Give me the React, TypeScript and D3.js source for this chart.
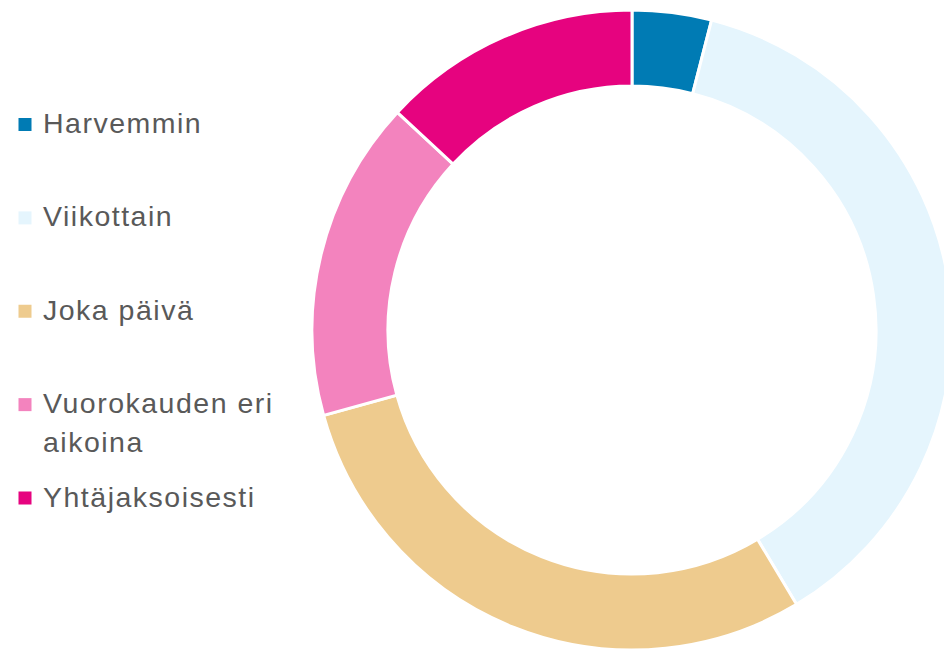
import React from "react";
import * as d3 from "d3";

const categories = ["Harvemmin", "Viikottain", "Joka päivä", "Vuorokauden eri aikoina", "Yhtäjaksoisesti"];
const values = [4.0, 37.4, 29.3, 16.2, 13.1];
const colors = ["#007bb4", "#e5f5fd", "#eecb8e", "#f383be", "#e6037f"];
const legendLines = [["Harvemmin"], ["Viikottain"], ["Joka päivä"], ["Vuorokauden eri", "aikoina"], ["Yhtäjaksoisesti"]];

export default function App() {
  const W = 944, H = 649;
  const cx = 632, cy = 330, rOuter = 320, rInner = 244;
  const data = categories.map((c, i) => ({ c, v: values[i], color: colors[i] }));
  const pie = d3.pie<any>().value((d) => d.v).sort(null);
  const arc = d3.arc<any>().innerRadius(rInner).outerRadius(rOuter);
  const arcs = pie(data);
  const legendY = d3.scaleLinear().domain([0, 4]).range([124.5, 498]);
  return (
    <svg width={W} height={H} style={{ position: "fixed", left: 0, top: 0, background: "#fff" }}>
      <g transform={`translate(${cx},${cy})`}>
        {arcs.map((a, i) => (
          <path key={i} d={arc(a) as string} fill={a.data.color} stroke="#fff" strokeWidth={3} />
        ))}
      </g>
      {legendLines.map((lines, i) => {
        const y = legendY(i);
        return (
          <g key={i}>
            <rect x={18.5} y={y - 6.5} width={13} height={13} fill={colors[i]} />
            <text
              x={43}
              y={y + 8.5}
              fill="#595959"
              style={{ fontFamily: "'Liberation Sans', Arial, sans-serif", fontSize: 28.5, letterSpacing: 1.5 }}
            >
              {lines.map((l, j) => (
                <tspan key={j} x={43} dy={j === 0 ? 0 : 39}>{l}</tspan>
              ))}
            </text>
          </g>
        );
      })}
    </svg>
  );
}
